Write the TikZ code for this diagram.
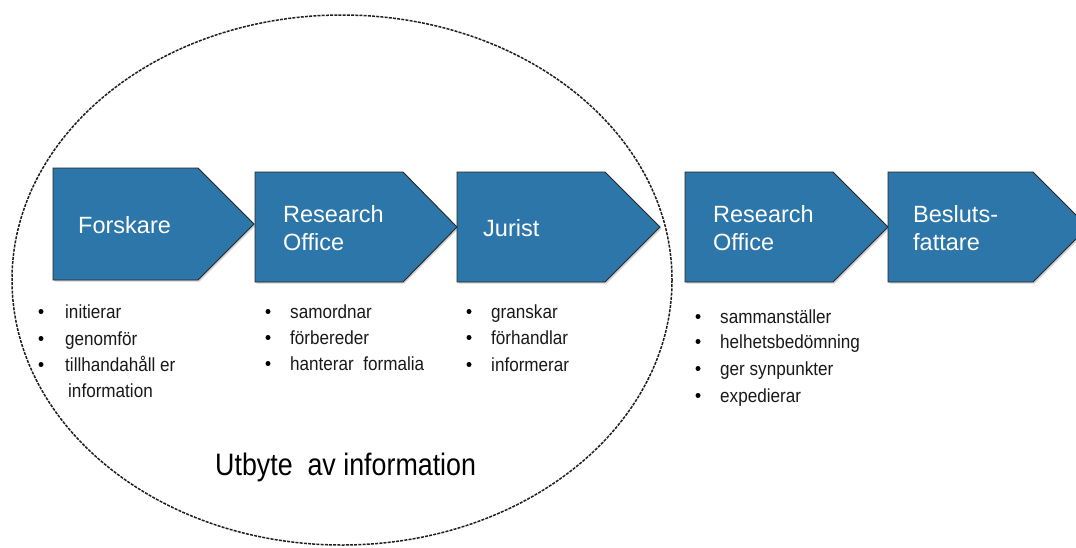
\documentclass[tikz,border=0pt]{standalone}
\usepackage{fontspec}
\setmainfont{Liberation Sans}
\newfontfamily\narrowfont[FakeStretch=0.9]{Liberation Sans}
\newfontfamily\utfont[FakeStretch=0.865]{Liberation Sans}
\usetikzlibrary{shadows}
\definecolor{chevblue}{RGB}{44,118,170}
\definecolor{txtgray}{RGB}{25,25,25}
\tikzset{
  chevbox/.style={fill=chevblue, draw=black!85, line width=0.9pt, line join=miter,
    drop shadow={opacity=0.35, shadow xshift=1.5pt, shadow yshift=-1.5pt}},
  chevlabel/.style={anchor=base west, inner sep=0pt, text=white, font=\fontsize{23.5}{29}\selectfont},
  bullettext/.style={anchor=base west, inner sep=0pt, text=txtgray, font=\narrowfont\fontsize{19}{26}\selectfont},
  bulletdot/.style={circle, fill=black, inner sep=0pt, minimum size=5pt, yshift=6.5pt},
  ringline/.style={draw=black!88, line width=1.5pt, dash pattern=on 3pt off 1.2pt}
}
\newcommand{\chevron}[6]{% name, x0, top, bottom, bodyend, tip
  \path[chevbox] (#2,#3) -- (#5,#3) -- (#6,{(#3+#4)/2}) -- (#5,#4) -- (#2,#4) -- cycle;
  \coordinate (#1) at (#2,#3);
}
\begin{document}
\begin{tikzpicture}[x=1pt,y=-1pt]
\useasboundingbox (0,0) rectangle (1076,547);
\fill[white] (0,0) rectangle (1076,547);

% chevrons
\chevron{c1}{53}{168}{280}{198}{254}
\chevron{c2}{255}{172}{282}{403}{457}
\chevron{c3}{457}{172}{282}{605}{660}
\chevron{c4}{685}{172}{282}{833}{888}
\chevron{c5}{888}{172}{282}{1033}{1088}

% ellipse
\path[ringline] (342,280) ellipse [x radius=330, y radius=265];

% labels
\node[chevlabel] (l1) at (78,233) {Forskare};
\node[chevlabel] (l2a) at (283,222) {Research};
\node[chevlabel] (l2b) at (283,250) {Office};
\node[chevlabel] (l3) at (483,236) {Jurist};
\node[chevlabel] (l4a) at (713,222) {Research};
\node[chevlabel] (l4b) at (713,250) {Office};
\node[chevlabel] (l5a) at (913,222) {Besluts-};
\node[chevlabel] (l5b) at (913,250) {fattare};

% list 1
\node[bulletdot] (b11) at (41,318) {};
\node[bullettext] (t11) at (65,318) {initierar};
\node[bulletdot] (b12) at (41,345) {};
\node[bullettext] (t12) at (65,345) {genomför};
\node[bulletdot] (b13) at (41,371) {};
\node[bullettext] (t13) at (65,371) {tillhandahåll er};
\node[bullettext] (t14) at (68,397) {information};

% list 2
\node[bulletdot] (b21) at (268,318) {};
\node[bullettext] (t21) at (290,318) {samordnar};
\node[bulletdot] (b22) at (268,344) {};
\node[bullettext] (t22) at (290,344) {förbereder};
\node[bulletdot] (b23) at (268,370) {};
\node[bullettext] (t23) at (290,370) {hanterar\ \ formalia};

% list 3
\node[bulletdot] (b31) at (469,318) {};
\node[bullettext] (t31) at (491,318) {granskar};
\node[bulletdot] (b32) at (469,344) {};
\node[bullettext] (t32) at (491,344) {förhandlar};
\node[bulletdot] (b33) at (469,371) {};
\node[bullettext] (t33) at (491,371) {informerar};

% list 4
\node[bulletdot] (b41) at (698,323) {};
\node[bullettext] (t41) at (720,323) {sammanställer};
\node[bulletdot] (b42) at (698,348) {};
\node[bullettext] (t42) at (720,348) {helhetsbedömning};
\node[bulletdot] (b43) at (698,375) {};
\node[bullettext] (t43) at (720,375) {ger synpunkter};
\node[bulletdot] (b44) at (698,402) {};
\node[bullettext] (t44) at (720,402) {expedierar};

% caption
\node[anchor=base west, inner sep=0pt, text=black, font=\utfont\fontsize{31}{36}\selectfont] (cap) at (215,475) {Utbyte\ \ av information};
\end{tikzpicture}
\end{document}
